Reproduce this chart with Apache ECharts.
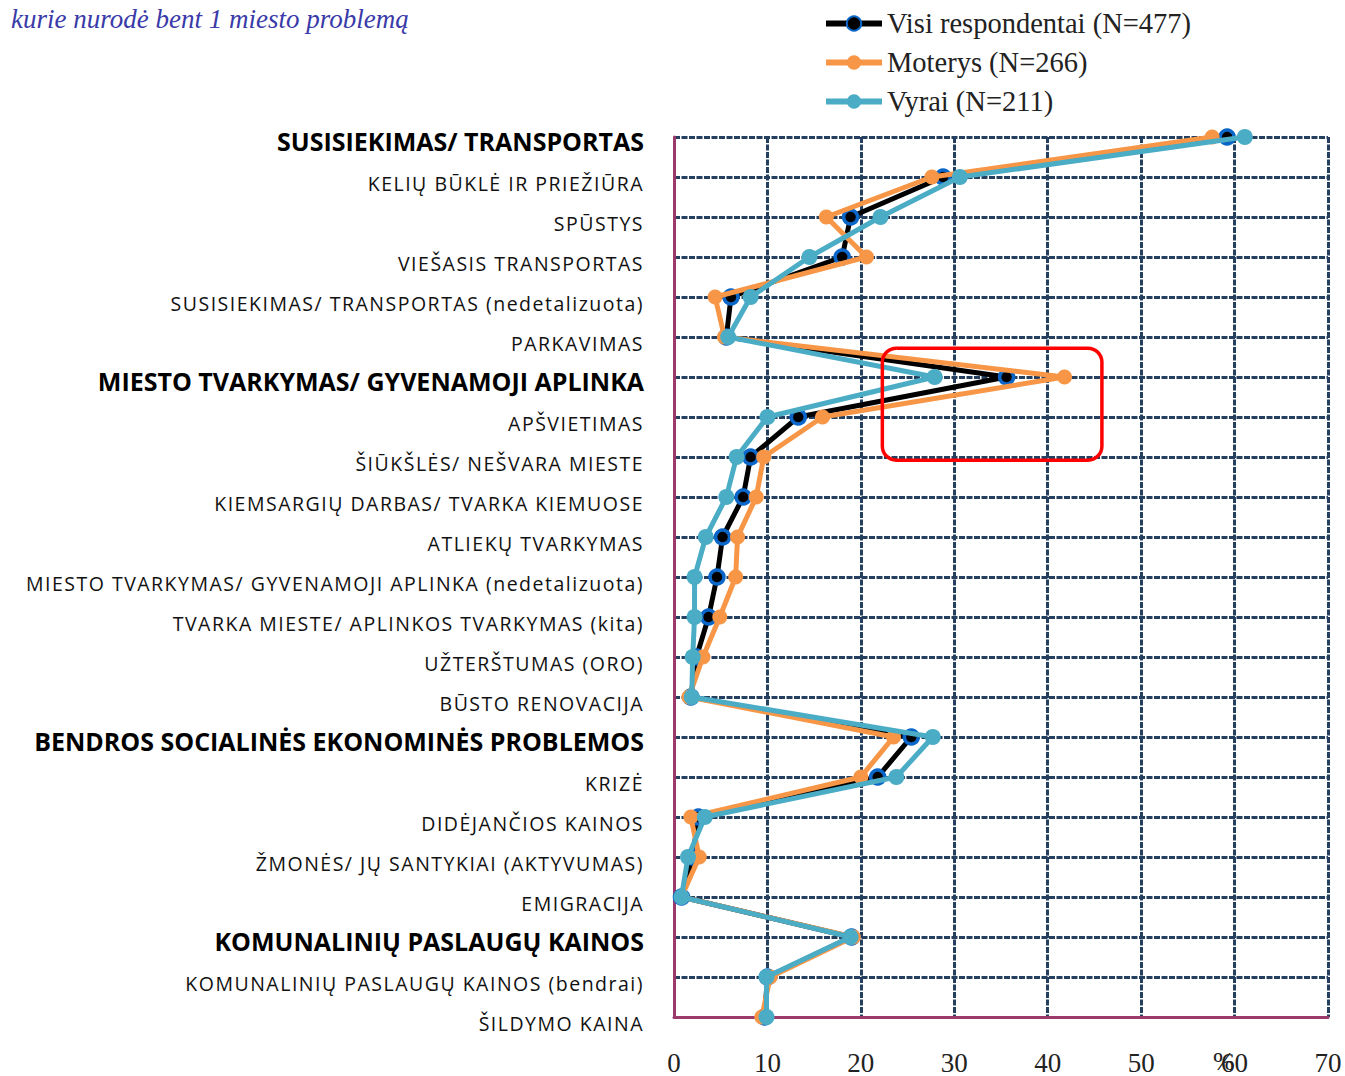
<!DOCTYPE html>
<html>
<head>
<meta charset="utf-8">
<script src="https://cdn.jsdelivr.net/npm/echarts@6/dist/echarts.min.js"></script>
<style>
html,body{margin:0;padding:0;background:#fff;}
#main{width:1345px;height:1076px;}
</style>
</head>
<body>
<div id="main"></div>
<script>
const categories = [
  "SUSISIEKIMAS/ TRANSPORTAS",
  "KELIŲ BŪKLĖ IR PRIEŽIŪRA",
  "SPŪSTYS",
  "VIEŠASIS TRANSPORTAS",
  "SUSISIEKIMAS/ TRANSPORTAS (nedetalizuota)",
  "PARKAVIMAS",
  "MIESTO TVARKYMAS/ GYVENAMOJI APLINKA",
  "APŠVIETIMAS",
  "ŠIŪKŠLĖS/ NEŠVARA MIESTE",
  "KIEMSARGIŲ DARBAS/ TVARKA KIEMUOSE",
  "ATLIEKŲ TVARKYMAS",
  "MIESTO TVARKYMAS/ GYVENAMOJI APLINKA (nedetalizuota)",
  "TVARKA MIESTE/ APLINKOS TVARKYMAS (kita)",
  "UŽTERŠTUMAS (ORO)",
  "BŪSTO RENOVACIJA",
  "BENDROS SOCIALINĖS EKONOMINĖS PROBLEMOS",
  "KRIZĖ",
  "DIDĖJANČIOS KAINOS",
  "ŽMONĖS/ JŲ SANTYKIAI (AKTYVUMAS)",
  "EMIGRACIJA",
  "KOMUNALINIŲ PASLAUGŲ KAINOS",
  "KOMUNALINIŲ PASLAUGŲ KAINOS (bendrai)",
  "ŠILDYMO KAINA"
];
const headerCategories = [
  "SUSISIEKIMAS/ TRANSPORTAS",
  "MIESTO TVARKYMAS/ GYVENAMOJI APLINKA",
  "BENDROS SOCIALINĖS EKONOMINĖS PROBLEMOS",
  "KOMUNALINIŲ PASLAUGŲ KAINOS"
];
const seriesNames = ["Visi respondentai (N=477)", "Moterys (N=266)", "Vyrai (N=211)"];
const visi    = [59.2, 28.8, 18.9, 18.0, 6.1, 5.6, 35.6, 13.3, 8.2, 7.4, 5.2, 4.6, 3.7, 2.4, 1.8, 25.4, 21.8, 2.6, 2.0, 0.8, 19.0, 10.0, 9.7];
const moterys = [57.6, 27.6, 16.3, 20.6, 4.4, 5.4, 41.8, 15.9, 9.6, 8.8, 6.8, 6.6, 4.9, 3.1, 1.6, 23.5, 20.0, 1.8, 2.7, 0.8, 19.2, 10.3, 9.4];
const vyrai   = [61.1, 30.6, 22.1, 14.5, 8.2, 5.8, 27.9, 10.0, 6.7, 5.6, 3.4, 2.2, 2.2, 2.0, 1.9, 27.7, 23.8, 3.3, 1.5, 0.8, 18.9, 9.9, 9.9];
const xTicks = [0, 10, 20, 30, 40, 50, 60, 70];
const subtitleText = "kurie nurodė bent 1 miesto problemą";
const unitText = "%";
// highlighted region (data space): x from 22.3 to 45.8, category index 5.28 to 8.08
const highlightBox = {x0: 22.3, x1: 45.8, c0: 5.28, c1: 8.08};

const gridColor = '#243f60';
const chart = echarts.init(document.getElementById('main'), null, {renderer: 'svg'});

chart.setOption({
  animation: false,
  backgroundColor: '#fff',
  title: [
    {text: subtitleText, left: 6, top: 0,
     textStyle: {fontFamily: 'Liberation Serif', fontStyle: 'italic', fontWeight: 'normal', fontSize: 27, color: '#3a3aa8'}},
    {text: unitText, left: 1208, top: 1043,
     textStyle: {fontFamily: 'Liberation Serif', fontWeight: 'normal', fontSize: 26, color: '#222'}}
  ],
  legend: {
    orient: 'vertical', left: 818, top: 4, itemGap: 10,
    itemWidth: 56, itemHeight: 18,
    lineStyle: {width: 6},
    textStyle: {fontFamily: 'Liberation Serif', fontSize: 28.5, color: '#222'},
    data: seriesNames
  },
  grid: {left: 674, right: 17, top: 137, bottom: 59, containLabel: false},
  xAxis: {
    type: 'value', min: 0, max: 70, interval: 10,
    axisLine: {show: true, lineStyle: {color: '#9b3a6b', width: 3}},
    axisTick: {show: false},
    axisLabel: {margin: 32, fontFamily: 'Liberation Serif', fontSize: 27, color: '#222',
      formatter: v => xTicks.includes(v) ? String(v) : ''},
    splitLine: {show: true, lineStyle: {color: gridColor, width: 3, type: [6, 1.5]}}
  },
  yAxis: {
    type: 'category', inverse: true, boundaryGap: false, data: categories,
    axisLine: {show: true, lineStyle: {color: '#9b3a6b', width: 3}},
    axisTick: {show: false},
    splitLine: {show: true, lineStyle: {color: gridColor, width: 3, type: [6, 1.5]}},
    axisLabel: {
      margin: 30, interval: 0,
      formatter: v => headerCategories.includes(v) ? '{h|' + v + '}' : '{n|' + v + '}',
      rich: {
        h: {fontFamily: 'Open Sans', fontWeight: 'bold', fontSize: 25, color: '#000', padding: [8, 0, 0, 0]},
        n: {fontFamily: 'Open Sans', fontSize: 19.5, color: '#111', padding: [13, 0, 0, 0]}
      }
    }
  },
  series: [
    {name: seriesNames[0], type: 'line', data: visi, symbol: 'circle', symbolSize: 14,
     lineStyle: {color: '#000', width: 5}, itemStyle: {color: '#000', borderColor: '#0a66c8', borderWidth: 3.5}, z: 2},
    {name: seriesNames[1], type: 'line', data: moterys, symbol: 'circle', symbolSize: 15,
     lineStyle: {color: '#f79646', width: 5}, itemStyle: {color: '#f79646'}, z: 3},
    {name: seriesNames[2], type: 'line', data: vyrai, symbol: 'circle', symbolSize: 16,
     lineStyle: {color: '#4bacc6', width: 5}, itemStyle: {color: '#4bacc6'}, z: 4}
  ]
});

// red highlight box placed through the chart's own scales
const p0 = chart.convertToPixel({gridIndex: 0}, [highlightBox.x0, 0]);
const p1 = chart.convertToPixel({gridIndex: 0}, [highlightBox.x1, 1]);
const step = p1[1] - p0[1];
const bx0 = p0[0], bx1 = p1[0];
const by0 = p0[1] + step * highlightBox.c0, by1 = p0[1] + step * highlightBox.c1;
chart.setOption({
  graphic: [{
    type: 'rect', z: 100,
    shape: {x: bx0, y: by0, width: bx1 - bx0, height: by1 - by0, r: 14},
    style: {fill: 'none', stroke: '#ff0000', lineWidth: 3.5}
  }]
});

// spaced lettering of the detail category labels (as in the original)
function spaceLabels() {
  document.querySelectorAll('#main svg text').forEach(t => {
    const s = t.textContent;
    if (categories.includes(s) && !headerCategories.includes(s)) {
      t.setAttribute('letter-spacing', '1.5px');
    }
  });
}
spaceLabels();
chart.on('finished', spaceLabels);
</script>
</body>
</html>
